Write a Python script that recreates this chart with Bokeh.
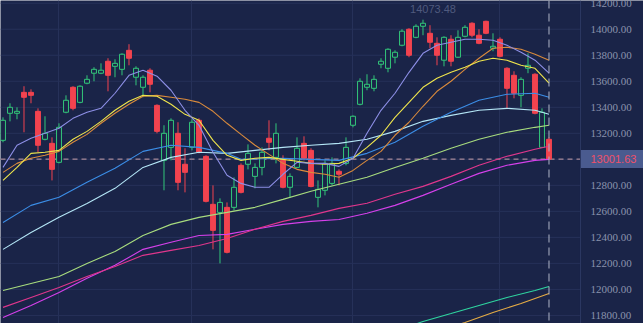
from bokeh.plotting import figure
from bokeh.models import (Range1d, FixedTicker, Span, Label, LabelSet, ColumnDataSource)
from bokeh.embed import file_html
from bokeh.resources import INLINE

# ---------------- data ----------------
opens = [13146, 13354, 13354, 13515, 13515, 13369, 13154, 13123, 12977, 13362,
         13554, 13438, 13585, 13662, 13662, 13754, 13715, 13692, 13838, 13631,
         13554, 13685, 13415, 12992, 13092, 13200, 12962, 13092, 13300, 13023,
         12654, 12592, 12631, 12631, 12954, 12962, 12869, 12938, 13162, 13015,
         12992, 12785, 12938, 13123, 13069, 12708, 12762, 12815, 12908, 12969,
         13262, 13423, 13554, 13546, 13731, 13700, 13785, 13877, 14000, 13938,
         14023, 13969, 13892, 13762, 13923, 13785, 13946, 14046, 13954, 14061,
         13854, 13923, 13700, 13646, 13492, 13700, 13654, 13092, 13154]
highs = [13323, 13431, 13400, 13562, 13538, 13392, 13331, 13169, 13277, 13492,
         13562, 13569, 13646, 13708, 13738, 13777, 13769, 13815, 13885, 13715,
         13646, 13700, 13423, 13262, 13315, 13285, 13085, 13308, 13315, 13031,
         12800, 12700, 12669, 12861, 12969, 13115, 12969, 13092, 13300, 13277,
         13031, 12892, 13169, 13177, 13085, 12838, 12992, 13015, 12923, 13169,
         13338, 13623, 13654, 13646, 13777, 13854, 13838, 14000, 14008, 14038,
         14073.48, 14031, 13938, 13946, 13954, 13992, 14031, 14054, 14000, 14066,
         13969, 13938, 13708, 13677, 13631, 13815, 13662, 13392, 13169]
lows = [13131, 13292, 13308, 13208, 13431, 13054, 13146, 12838, 12969, 13354,
        13377, 13431, 13577, 13600, 13655, 13523, 13631, 13646, 13723, 13569,
        13477, 13515, 13200, 12762, 12992, 12762, 12746, 13069, 13046, 12669,
        12308, 12200, 12277, 12608, 12738, 12923, 12777, 12877, 13069, 12969,
        12777, 12708, 12931, 12992, 12785, 12631, 12723, 12800, 12800, 12954,
        13246, 13415, 13531, 13523, 13700, 13669, 13738, 13869, 13785, 13931,
        13954, 13854, 13723, 13715, 13715, 13780, 13938, 13938, 13885, 13962,
        13831, 13785, 13392, 13469, 13400, 13662, 13346, 13088, 13000]
closes = [13300, 13400, 13369, 13477, 13492, 13108, 13200, 12923, 13246, 13454,
          13392, 13562, 13615, 13692, 13685, 13646, 13738, 13808, 13777, 13700,
          13631, 13577, 13215, 13200, 13300, 12823, 12900, 13285, 13054, 12677,
          12454, 12669, 12285, 12785, 12746, 13046, 12938, 13054, 13131, 13200,
          12785, 12869, 13085, 13008, 12792, 12769, 12969, 12969, 12885, 13092,
          13331, 13600, 13577, 13615, 13754, 13846, 13823, 13985, 13800, 14023,
          14046, 13900, 13800, 13938, 13754, 13938, 14015, 13954, 13892, 13969,
          13869, 13792, 13546, 13508, 13615, 13723, 13354, 13362, 13001.63]

last_price = 13001.63
max_high = 14073.48

# moving-average lines, read at sampled candle indices
idx_2 = list(range(0, 79, 2))
ma_lavender = [12938, 13108, 13162, 13200, 13239, 13315, 13362, 13392, 13508, 13646,
               13685, 13639, 13531, 13377, 13262, 13054, 12877, 12815, 12785, 12785,
               12885, 12977, 12969, 12969, 12946, 13008, 13200, 13377, 13508, 13669,
               13815, 13877, 13900, 13923, 13923, 13915, 13877, 13823, 13762, 13662]
ma_yellow = [12838, 12938, 13046, 13054, 13069, 13154, 13215, 13292, 13377, 13446,
             13492, 13485, 13423, 13346, 13300, 13146, 13031, 12992, 13008, 13015,
             13000, 12985, 12969, 12962, 12969, 13008, 13092, 13185, 13323, 13438,
             13554, 13623, 13669, 13708, 13754, 13777, 13762, 13723, 13700, 13585]
ma_orange = [12900, 12969, 13008, 13031, 13061, 13131, 13192, 13277, 13354, 13423,
             13485, 13492, 13477, 13462, 13438, 13369, 13277, 13192, 13108, 13038,
             12969, 12923, 12900, 12885, 12862, 12915, 12992, 13061, 13185, 13285,
             13408, 13523, 13600, 13692, 13777, 13854, 13862, 13846, 13808, 13762]

idx_blue = [0, 4, 8, 12, 16, 20, 24, 28, 32, 34, 40, 44, 48, 52, 56, 60, 64, 68, 72, 76, 78]
ma_blue = [12515, 12646, 12708, 12823, 12931, 13061, 13108, 13092, 13046, 13000, 13008,
           13000, 12992, 13046, 13131, 13254, 13362, 13454, 13500, 13508, 13477]

idx_4 = list(range(0, 77, 4)) + [78]
ma_cyan = [12308, 12438, 12554, 12661, 12777, 12938, 13015, 13054, 13046, 13069, 13092,
           13108, 13123, 13154, 13215, 13292, 13338, 13377, 13392, 13377, 13346]
ma_lightgreen = [11992, 12046, 12100, 12200, 12292, 12415, 12500, 12554, 12592, 12631, 12692,
                 12754, 12808, 12862, 12938, 13008, 13085, 13154, 13208, 13246, 13262]
ma_pink = [11862, 11938, 12015, 12100, 12177, 12262, 12300, 12338, 12392, 12462, 12523,
           12569, 12623, 12662, 12731, 12792, 12869, 12954, 13023, 13077, 13100]
ma_magenta = [11785, 11877, 11977, 12085, 12185, 12308, 12362, 12415, 12423, 12462, 12500,
              12523, 12538, 12585, 12646, 12723, 12808, 12892, 12954, 12992, 13000]

idx_teal = [54, 58, 60, 64, 68, 72, 76, 78]
ma_teal = [11654, 11715, 11754, 11815, 11877, 11938, 11992, 12023]
idx_gold = [60, 62, 66, 70, 74, 78]
ma_gold = [11640, 11677, 11746, 11823, 11892, 11969]

y_ticks = [11800, 12000, 12200, 12400, 12600, 12800, 13200, 13400, 13600, 13800, 14000, 14200]
grid_levels = [11800, 12000, 12200, 12400, 12600, 12800, 13000, 13200, 13400, 13600, 13800, 14000, 14200]
x_grid_idx = [8, 27, 50, 71]
n_slots = 82.857   # candle slots visible in the price area (before the scale panel)

# ---------------- styles ----------------
BG = "#1a2448"
GRID = "#263159"
UP = "#33c77a"
DOWN = "#f2434f"
X0 = -0.357
X1 = X0 + 643 / 7.0
Y0, Y1 = 11738, 14221
scale_left = X0 + n_slots
tag_half = 9 * (Y1 - Y0) / 323.0   # 9 px expressed in price units

p = figure(width=643, height=323,
           x_range=Range1d(X0, X1), y_range=Range1d(Y0, Y1),
           y_axis_location=None, x_axis_location=None,
           output_backend="svg", toolbar_location=None,
           min_border_left=0, min_border_top=0, min_border_bottom=0, min_border_right=0,
           background_fill_color=BG, border_fill_color=BG, outline_line_color=None)

p.ygrid.visible = False
p.xgrid.ticker = FixedTicker(ticks=x_grid_idx)
p.xgrid.grid_line_color = GRID

# horizontal grid lines, only across the price area
p.segment(x0=[X0] * len(grid_levels), y0=grid_levels,
          x1=[scale_left] * len(grid_levels), y1=grid_levels,
          line_color=GRID, line_width=1)

idx = list(range(len(closes)))
up_i = [i for i in idx if closes[i] >= opens[i]]
dn_i = [i for i in idx if closes[i] < opens[i]]

# last price dashed line across the price area
p.segment(x0=[X0], y0=[last_price], x1=[scale_left], y1=[last_price],
          line_color="#c9a3aa", line_dash="5 4", line_width=1)

# wicks
p.segment(x0=up_i, y0=[lows[i] for i in up_i], x1=up_i, y1=[highs[i] for i in up_i],
          line_color=UP, line_width=1)
p.segment(x0=dn_i, y0=[lows[i] for i in dn_i], x1=dn_i, y1=[highs[i] for i in dn_i],
          line_color=DOWN, line_width=1)
# bodies
p.vbar(x=up_i, width=0.7, top=[closes[i] for i in up_i], bottom=[opens[i] for i in up_i],
       fill_color=BG, line_color=UP, line_width=1)
p.vbar(x=dn_i, width=0.7, top=[opens[i] for i in dn_i], bottom=[closes[i] for i in dn_i],
       fill_color=DOWN, line_color=DOWN, line_width=1)

# moving averages
lw = 1.1
p.line(idx_gold, ma_gold, line_color="#e6ac45", line_width=lw)
p.line(idx_teal, ma_teal, line_color="#2fd6a0", line_width=lw)
p.line(idx_4, ma_magenta, line_color="#d540ea", line_width=lw)
p.line(idx_4, ma_pink, line_color="#e0368c", line_width=lw)
p.line(idx_4, ma_lightgreen, line_color="#a8dc7e", line_width=lw)
p.line(idx_4, ma_cyan, line_color="#b4e6f6", line_width=lw)
p.line(idx_blue, ma_blue, line_color="#3b8de6", line_width=lw)
p.line(idx_2, ma_orange, line_color="#d98a3c", line_width=lw)
p.line(idx_2, ma_yellow, line_color="#f0e64c", line_width=lw)
p.line(idx_2, ma_lavender, line_color="#8d8fe6", line_width=lw)

# current-price tag in the scale panel
p.quad(left=[scale_left], right=[X1], top=[last_price + tag_half],
       bottom=[last_price - tag_half], fill_color="#4a5b8f", fill_alpha=1.0,
       line_color=None)

# crosshair and panel separator
p.add_layout(Span(location=idx[-1], dimension="height", line_color="#b0b5c6",
                  line_dash="8 5", line_width=1))
p.add_layout(Span(location=scale_left, dimension="height", line_color="#2c3862",
                  line_width=1))

tick_src = ColumnDataSource(data=dict(y=y_ticks, text=[f"{t:.2f}" for t in y_ticks]))
p.add_layout(LabelSet(x=590, y="y", text="text", source=tick_src,
                      x_units="screen", y_units="data",
                      text_color="#8a93ad", text_font="Liberation Sans",
                      text_font_size="11px", text_baseline="middle", text_align="left"))

p.add_layout(Label(x=590, y=last_price, x_units="screen", y_units="data",
                   text=f"{last_price:.2f}", text_color="#f0506a",
                   text_font="Liberation Sans", text_font_size="11px",
                   text_baseline="middle", text_align="left"))

max_i = highs.index(max_high)
p.add_layout(Label(x=max_i, y=max_high, x_offset=10, y_offset=11,
                   text=f"{max_high:.2f}", text_color="#4f5a7e",
                   text_font="Liberation Sans", text_font_size="11px",
                   text_baseline="middle", text_align="center"))

open("out.html", "w").write(file_html(p, INLINE))
